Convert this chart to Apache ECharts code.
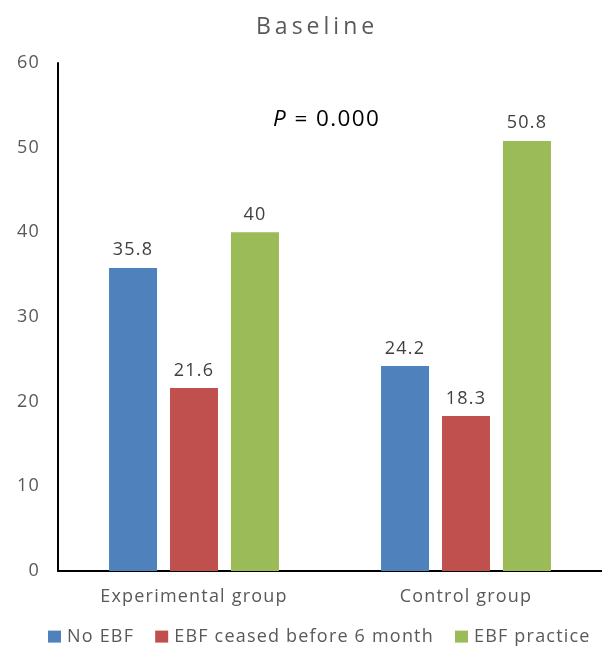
<!DOCTYPE html>
<html><head><meta charset="utf-8">
<script src="https://cdn.jsdelivr.net/npm/echarts@6/dist/echarts.min.js"></script>
<style>html,body{margin:0;padding:0;background:#fff}#c{width:602px;height:651px}</style>
</head><body><div id="c"></div>
<script>
// Letter spacing to mimic the wide-set text of the reference
(function () {
  const P = CanvasRenderingContext2D.prototype;
  function sp(font) {
    const m = /(\d+(?:\.\d+)?)px/.exec(font || '');
    const s = m ? +m[1] : 12;
    if (s >= 23) return '4px';
    if (s >= 22) return '1.4px';
    return '1.2px';
  }
  const f = P.fillText, mt = P.measureText;
  P.fillText = function () { try { this.letterSpacing = sp(this.font); } catch (e) {} return f.apply(this, arguments); };
  P.measureText = function () { try { this.letterSpacing = sp(this.font); } catch (e) {} return mt.apply(this, arguments); };
})();

const categories = ['Experimental group', 'Control group'];
const seriesNames = ['No EBF', 'EBF ceased before 6 month', 'EBF practice'];
const noEBF = [35.8, 24.2];
const ceased = [21.6, 18.3];
const practice = [40, 50.8];
const colors = ['#4F81BD', '#C0504D', '#9BBB59'];
const font = 'Open Sans';
const chart = echarts.init(document.getElementById('c'));
const mk = (name, data, color) => ({
  name, type: 'bar', data, barWidth: 48, barGap: '27%',
  itemStyle: {color},
  label: {show: true, position: 'top', distance: 8, color: '#404040', fontSize: 18, fontFamily: font}
});
chart.setOption({
  animation: false,
  title: {text: 'Baseline', left: 251, top: 9, textStyle: {fontSize: 23, fontWeight: 'normal', color: '#595959', fontFamily: font}},
  graphic: [{type: 'text', left: 273, top: 107, style: {
    text: '{i|P} = 0.000', fill: '#000',
    rich: {i: {fontStyle: 'italic', fontSize: 22.5, fontFamily: font, fill: '#000'}},
    fontSize: 22.5, fontFamily: font}}],
  legend: {top: 627, left: 48, padding: 0, itemWidth: 13, itemHeight: 12, itemGap: 21, icon: 'rect',
    textStyle: {fontSize: 18, color: '#595959', fontFamily: font, padding: [0, 0, 0, 1]}},
  grid: {left: 58, right: -4, top: 63, bottom: 80},
  xAxis: {type: 'category', data: categories,
    axisLine: {lineStyle: {color: '#000', width: 2}}, axisTick: {show: false},
    axisLabel: {fontSize: 18, color: '#595959', fontFamily: font, margin: 16}},
  yAxis: {type: 'value', min: 0, max: 60, interval: 10,
    axisLine: {show: true, lineStyle: {color: '#000', width: 2}}, splitLine: {show: false},
    axisLabel: {fontSize: 18, color: '#595959', fontFamily: font, margin: 18}},
  series: [mk(seriesNames[0], noEBF, colors[0]), mk(seriesNames[1], ceased, colors[1]), mk(seriesNames[2], practice, colors[2])]
});
</script></body></html>
